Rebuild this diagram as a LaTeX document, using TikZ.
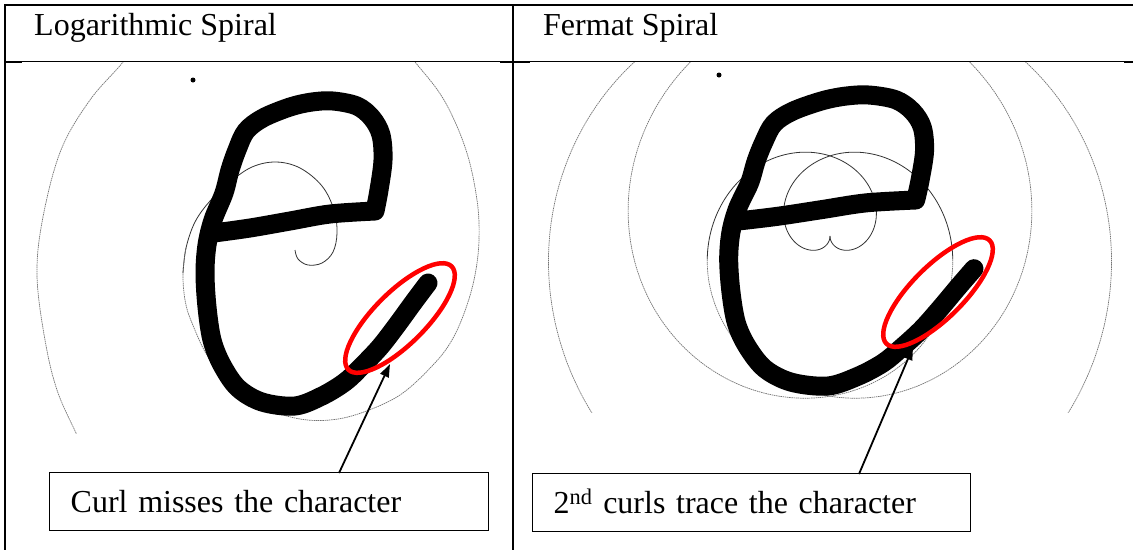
\documentclass[tikz,border=0pt]{standalone}
\usepackage{fontspec}
\setmainfont{Liberation Serif}
\usetikzlibrary{shapes.geometric, arrows.meta}
\newcommand\eglyphstroke{%
  \draw[estroke] plot[smooth, tension=0.55] coordinates {(214,233) (250,228) (290,221) (330,214) (375,211)}
    -- plot[smooth, tension=0.55] coordinates {(375,211) (379,190) (383,160) (381,135) (372,118) (357,106) (333,101) (312,102) (290,107) (263,118) (246,131) (237,150) (230,170) (224,193) (213,220) (207,245) (205,273) (207,307) (212,340) (222,365) (238,388) (262,402) (295,406) (322,396) (345,382) (361,367) (380,347) (397,325) (413,303) (428,283)};}
\begin{document}
\begin{tikzpicture}[x=1pt, y=-1pt,
  frame/.style={line width=2pt, black},
  hline/.style={line width=1.4pt, black},
  innerspiral/.style={line width=0.8pt, black!80},
  outerspiral/.style={line width=0.7pt, black!55, dash pattern=on 1.5pt off 0.7pt},
  estroke/.style={line width=19pt, line cap=round, line join=round, black},
  redring/.style={ellipse, draw=red, line width=4.5pt, minimum width=146pt, minimum height=52pt, inner sep=0pt, rotate=45},
  callout/.style={draw, line width=1.4pt, anchor=north west, minimum height=58pt, inner xsep=21pt, inner ysep=0pt, text height=22pt, text depth=0pt, align=left},
  pointer/.style={line width=1.8pt, -{Triangle[length=13pt, width=9pt]}},
  title/.style={anchor=base west, inner sep=0pt},
  font=\fontsize{32}{38}\selectfont]
\useasboundingbox (0,0) rectangle (1133,550);
\fill[white] (0,0) rectangle (1133,550);

% ---------- left panel: logarithmic spiral ----------
\begin{scope}
  \clip (6,62.5) rectangle (512,433);
  \draw[innerspiral] plot[smooth, tension=0.6] coordinates {(295,250) (298,259) (308,265) (322,263) (333,252) (337,233) (334,210) (322,186) (300,168) (276,162) (252,167) (230,182) (210,201) (195,222) (186,248) (183,273)};
  \draw[outerspiral] plot[smooth, tension=0.6] coordinates {(186,248) (183,273) (185,300) (192,323) (210,360) (240,393) (270,410) (300,419) (330,420) (361,413) (400,395) (433,365) (452,340) (466,308) (475,275) (479,240) (477,200) (466,150) (444,100) (415,62) (400,45)};
  \draw[outerspiral] plot[smooth, tension=0.6] coordinates {(140,35) (123,62) (90,100) (61,150) (43,217) (37,275) (45,340) (57,390) (76,433) (84,450)};
\end{scope}
\fill (193,80) circle[radius=2.5pt];
\eglyphstroke
\node[redring] (ringL) at (400,318) {};

% ---------- right panel: Fermat spiral ----------
\begin{scope}
  \clip (540,62.5) rectangle (1133,412);
  \draw[innerspiral] plot[domain=0:4.9, samples=150, smooth, variable=\t] ({830-25.5*\t*sin(\t r)}, {236+25.5*\t*cos(\t r)});
  \draw[innerspiral] plot[domain=0:4.9, samples=150, smooth, variable=\t] ({830+25.5*\t*sin(\t r)}, {236+25.5*\t*cos(\t r)});
  \draw[outerspiral] plot[domain=4.9:12.4, samples=250, smooth, variable=\t] ({830-25.5*\t*sin(\t r)}, {236+25.5*\t*cos(\t r)});
  \draw[outerspiral] plot[domain=4.9:12.4, samples=250, smooth, variable=\t] ({830+25.5*\t*sin(\t r)}, {236+25.5*\t*cos(\t r)});
\end{scope}
\fill (719,75) circle[radius=2.5pt];
\begin{scope}[shift={(503.2,-1.3)}, xscale=1.1, yscale=0.954]
  \eglyphstroke
\end{scope}
\node[redring] (ringR) at (938,292) {};

% ---------- table frame ----------
\draw[frame] (4,5) -- (1133,5);
\draw[frame] (5,4) -- (5,550);
\draw[frame] (513,4) -- (513,550);
\draw[hline] (5,61.5) -- (1133,61.5);
\draw[line width=2.2pt] (5,62) -- (22,62);
\draw[line width=2.2pt] (500,62) -- (530,62);
\draw[line width=2.2pt] (1124,62) -- (1133,62);

% ---------- titles ----------
\node[title] (titleL) at (34,35) {Logarithmic Spiral};
\node[title] (titleR) at (543,35) {Fermat Spiral};

% ---------- callouts ----------
\node[callout, text width=397pt] (boxL) at (49,472) {Curl misses the character};
\node[callout, text width=396pt] (boxR) at (532,473) {2\textsuperscript{nd} curls trace the character};
\coordinate (baseL) at (339,473);
\coordinate (tipL) at (390,364);
\coordinate (baseR) at (859,474);
\coordinate (tipR) at (913,347);
\draw[pointer] (baseL) -- (tipL);
\draw[pointer] (baseR) -- (tipR);
\end{tikzpicture}
\end{document}
